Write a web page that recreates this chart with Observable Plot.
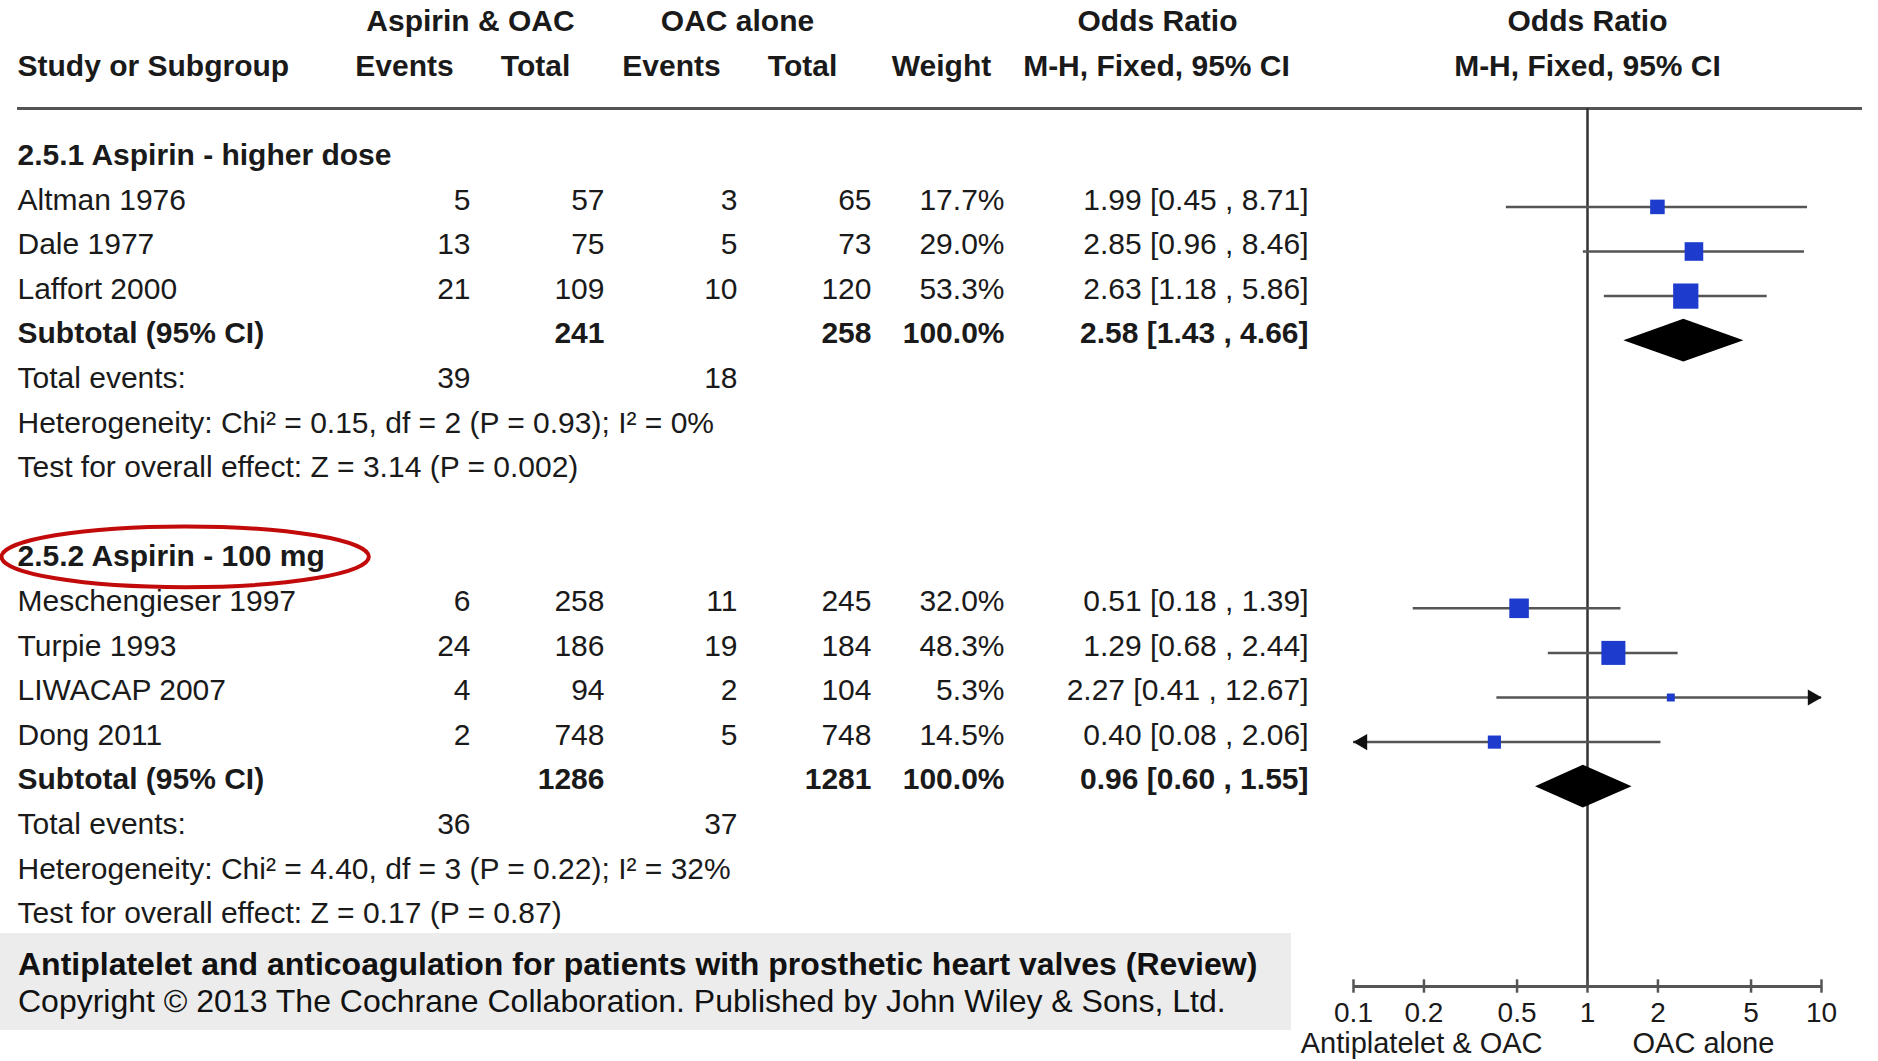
<!DOCTYPE html>
<html>
<head>
<meta charset="utf-8">
<script src="https://cdn.jsdelivr.net/npm/d3@7"></script>
<script src="https://cdn.jsdelivr.net/npm/@observablehq/plot@0.6"></script>
<style>
  html, body { margin: 0; padding: 0; background: #fff; }
  #wrap { position: relative; width: 1878px; height: 1061px; overflow: hidden;
          font-family: "Liberation Sans", Arial, Helvetica, sans-serif; }
  #wrap svg { position: absolute; left: 0; top: 0; }
  #footer { position: absolute; left: 0; top: 933px; width: 1291px; height: 97px;
            background: #ececec; color: #111; }
  #footer .t1 { position: absolute; left: 18px; top: 15px; font-size: 32px; font-weight: bold; line-height: 1; white-space: nowrap; }
  #footer .t2 { position: absolute; left: 18px; top: 52px; font-size: 32px; line-height: 1; white-space: nowrap; }
</style>
</head>
<body>
<div id="wrap">
  <div id="footer">
    <div class="t1" id="ft1"></div>
    <div class="t2" id="ft2"></div>
  </div>
</div>
<script>
// ---------------- DATA ----------------
const groupLabels = ["2.5.1 Aspirin - higher dose", "2.5.2 Aspirin - 100 mg"];
const studyNames  = ["Altman 1976", "Dale 1977", "Laffort 2000",
                     "Meschengieser 1997", "Turpie 1993", "LIWACAP 2007", "Dong 2011"];
const studyGroup  = [0, 0, 0, 1, 1, 1, 1];
const eventsAsp   = [5, 13, 21, 6, 24, 4, 2];
const totalAsp    = [57, 75, 109, 258, 186, 94, 748];
const eventsOac   = [3, 5, 10, 11, 19, 2, 5];
const totalOac    = [65, 73, 120, 245, 184, 104, 748];
const weights     = [17.7, 29.0, 53.3, 32.0, 48.3, 5.3, 14.5];
const orEst       = [1.99, 2.85, 2.63, 0.51, 1.29, 2.27, 0.40];
const orLo        = [0.45, 0.96, 1.18, 0.18, 0.68, 0.41, 0.08];
const orHi        = [8.71, 8.46, 5.86, 1.39, 2.44, 12.67, 2.06];

const subTotalAsp = [241, 1286];
const subTotalOac = [258, 1281];
const subWeight   = [100.0, 100.0];
const subEst      = [2.58, 0.96];
const subLo       = [1.43, 0.60];
const subHi       = [4.66, 1.55];
const totEventsAsp = [39, 36];
const totEventsOac = [18, 37];
const heterogeneity = ["Heterogeneity: Chi\u00B2 = 0.15, df = 2 (P = 0.93); I\u00B2 = 0%",
                       "Heterogeneity: Chi\u00B2 = 4.40, df = 3 (P = 0.22); I\u00B2 = 32%"];
const overallEffect = ["Test for overall effect: Z = 3.14 (P = 0.002)",
                       "Test for overall effect: Z = 0.17 (P = 0.87)"];

const headerTop    = ["Aspirin & OAC", "OAC alone", "Odds Ratio"];
const headerBottom = ["Study or Subgroup", "Events", "Total", "Events", "Total", "Weight", "M-H, Fixed, 95% CI"];
const forestHeader = ["Odds Ratio", "M-H, Fixed, 95% CI"];
const axisTicks    = [0.1, 0.2, 0.5, 1, 2, 5, 10];
const sideLabels   = ["Antiplatelet & OAC", "OAC alone"];
const footerTitle  = "Antiplatelet and anticoagulation for patients with prosthetic heart valves (Review)";
const footerCopy   = "Copyright \u00A9 2013 The Cochrane Collaboration. Published by John Wiley & Sons, Ltd.";

// ---------------- LAYOUT (styles / positions) ----------------
const FONT = "'Liberation Sans', Arial, Helvetica, sans-serif";
const TXT = "#1a1a1a";
const colPos = { name: [17, "start"], eA: [470, "end"], nA: [604, "end"], eO: [737, "end"],
                 nO: [871, "end"], w: [1004, "end"], or: [1308, "end"] };
const headTopPos = [470, 737, 1157];
const headBotPos = [[17, "start"], [404, "middle"], [535, "middle"], [671, "middle"],
                    [802, "middle"], [941, "middle"], [1156, "middle"]];
const xDomain = [0.1, 10];
const headerRuleRow = 1.95;
const axisRow = 21.48;
const tickHalf = 0.15;
const diamondHalf = 0.48;

// ---------------- BUILD TABLE ----------------
const fmt2 = v => v.toFixed(2);
const orText = (e, l, h) => `${fmt2(e)} [${fmt2(l)} , ${fmt2(h)}]`;
const cells = [];
function cell(row, col, text, bold) {
  const [x, anchor] = colPos[col];
  cells.push({ row, x, anchor, bold, text: String(text) });
}
headerTop.forEach((t, i) => cells.push({ row: 0, x: headTopPos[i], anchor: "middle", bold: true, text: t }));
headerBottom.forEach((t, i) => cells.push({ row: 1, x: headBotPos[i][0], anchor: headBotPos[i][1], bold: true, text: t }));

const studies = [];
const subtotals = [];
let row = 3;
groupLabels.forEach((g, gi) => {
  cell(row, "name", g, true); row++;
  studyNames.forEach((name, i) => {
    if (studyGroup[i] !== gi) return;
    cell(row, "name", name, false);
    cell(row, "eA", eventsAsp[i], false);
    cell(row, "nA", totalAsp[i], false);
    cell(row, "eO", eventsOac[i], false);
    cell(row, "nO", totalOac[i], false);
    cell(row, "w", weights[i].toFixed(1) + "%", false);
    cell(row, "or", orText(orEst[i], orLo[i], orHi[i]), false);
    studies.push({ row, est: orEst[i], lo: orLo[i], hi: orHi[i], weight: weights[i] });
    row++;
  });
  cell(row, "name", "Subtotal (95% CI)", true);
  cell(row, "nA", subTotalAsp[gi], true);
  cell(row, "nO", subTotalOac[gi], true);
  cell(row, "w", subWeight[gi].toFixed(1) + "%", true);
  cell(row, "or", orText(subEst[gi], subLo[gi], subHi[gi]), true);
  subtotals.push({ g: gi, row, est: subEst[gi], lo: subLo[gi], hi: subHi[gi] });
  row++;
  cell(row, "name", "Total events:", false);
  cell(row, "eA", totEventsAsp[gi], false);
  cell(row, "eO", totEventsOac[gi], false);
  row++;
  cell(row, "name", heterogeneity[gi], false); row++;
  cell(row, "name", overallEffect[gi], false); row++;
  row++;
});

const diamondPts = subtotals.flatMap(s => [
  { g: s.g, y: s.row - diamondHalf, x1: s.est, x2: s.est },
  { g: s.g, y: s.row, x1: s.lo, x2: s.hi },
  { g: s.g, y: s.row + diamondHalf, x1: s.est, x2: s.est }
]);

const textMarks = d3.groups(cells, d => d.anchor + "|" + d.bold).map(([k, arr]) =>
  Plot.text(arr, { x: "x", y: "row", text: "text", textAnchor: arr[0].anchor,
                   fontWeight: arr[0].bold ? "bold" : "normal", fontSize: 30, fill: TXT }));

const baseStyle = { background: "transparent", fontFamily: FONT, fontSize: "30px", color: TXT, overflow: "visible" };

const left = Plot.plot({
  width: 1878, height: 1061,
  marginLeft: 17, marginRight: 16, marginTop: 0, marginBottom: 0,
  x: { domain: [0, 1878], range: [0, 1878], axis: null },
  y: { domain: [0, 20], range: [21, 913], axis: null },
  style: baseStyle,
  marks: [
    Plot.ruleY([headerRuleRow], { stroke: "#555", strokeWidth: 3 }),
    ...textMarks
  ]
});

const right = Plot.plot({
  width: 1878, height: 1061,
  marginLeft: 1353, marginRight: 57, marginTop: 108, marginBottom: 75,
  x: { type: "log", domain: xDomain, axis: null },
  y: { domain: [0, 20], range: [28, 920], axis: null },
  r: { type: "sqrt", domain: [0, 100], range: [0, 19.5] },
  style: baseStyle,
  marks: [
    Plot.ruleX([1], { stroke: "#333", strokeWidth: 2.5 }),
    Plot.ruleY(studies, { y: "row", x1: "lo", x2: "hi", stroke: "#555", strokeWidth: 2.5, clip: true }),
    Plot.dot(studies.filter(d => d.hi > xDomain[1]), { x: () => xDomain[1], y: "row", symbol: "triangle",
      r: 6, rotate: 90, dx: -9, fill: "#111", stroke: "none" }),
    Plot.dot(studies.filter(d => d.lo < xDomain[0]), { x: () => xDomain[0], y: "row", symbol: "triangle",
      r: 6, rotate: -90, dx: 9, fill: "#111", stroke: "none" }),
    Plot.dot(studies, { x: "est", y: "row", r: "weight", symbol: "square", fill: "#1d3ccd", stroke: "none" }),
    Plot.areaX(diamondPts, { y: "y", x1: "x1", x2: "x2", z: "g", fill: "#000", curve: "linear" }),
    Plot.ruleY([axisRow], { x1: xDomain[0], x2: xDomain[1], stroke: "#555", strokeWidth: 3 }),
    Plot.ruleX(axisTicks, { x: d => d, y1: axisRow - tickHalf, y2: axisRow + tickHalf, stroke: "#555", strokeWidth: 2.5 }),
    Plot.text(axisTicks, { x: d => d, y: axisRow, dy: 27, text: d => String(d), fontSize: 28, fill: TXT }),
    Plot.text([sideLabels[0]], { x: () => 1, y: axisRow, dy: 57, dx: -45, text: d => d, textAnchor: "end", fontSize: 29, fill: TXT }),
    Plot.text([sideLabels[1]], { x: () => 1, y: axisRow, dy: 57, dx: 45, text: d => d, textAnchor: "start", fontSize: 29, fill: TXT }),
    Plot.text(forestHeader, { x: () => 1, y: (d, i) => i, dy: -7, text: d => d, fontWeight: "bold", fontSize: 30, fill: TXT })
  ]
});

document.getElementById("ft1").textContent = footerTitle;
document.getElementById("ft2").textContent = footerCopy;
const wrap = document.getElementById("wrap");
wrap.appendChild(left);
wrap.appendChild(right);

// red highlight ellipse around the second subgroup heading
const heading = [...left.querySelectorAll("text")].find(t => t.textContent === groupLabels[1]);
if (heading) {
  const sr = left.getBoundingClientRect();
  const br = heading.getBoundingClientRect();
  const ell = document.createElementNS("http://www.w3.org/2000/svg", "ellipse");
  ell.setAttribute("cx", br.left - sr.left + br.width / 2 + 14);
  ell.setAttribute("cy", br.top - sr.top + br.height / 2 + 1);
  ell.setAttribute("rx", br.width / 2 + 30);
  ell.setAttribute("ry", br.height * 0.92);
  ell.setAttribute("fill", "none");
  ell.setAttribute("stroke", "#c20a0a");
  ell.setAttribute("stroke-width", 4);
  left.appendChild(ell);
}
</script>
</body>
</html>
